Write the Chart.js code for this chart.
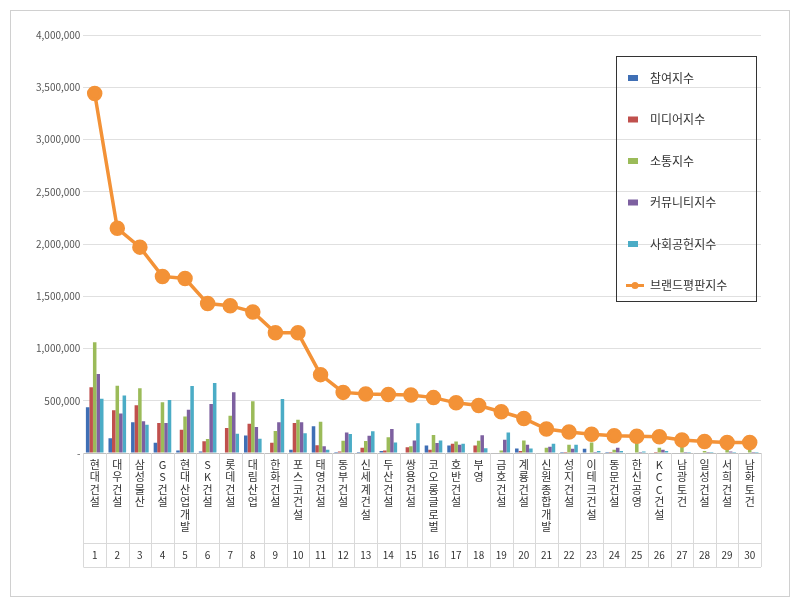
<!DOCTYPE html>
<html><head><meta charset="utf-8">
<script src="https://cdn.jsdelivr.net/npm/chart.js@4"></script>
<style>body{margin:0;background:#fff}#w{position:absolute;left:10px;top:10px;width:778px;height:585px;border:1px solid #d0d0d0}</style>
</head><body><div id="w"><canvas id="c"></canvas></div>
<script>
const categories=['현대건설','대우건설','삼성물산','GS건설','현대산업개발','SK건설','롯데건설','대림산업','한화건설','포스코건설','태영건설','동부건설','신세계건설','두산건설','쌍용건설','코오롱글로벌','호반건설','부영','금호건설','계룡건설','신원종합개발','성지건설','이테크건설','동문건설','한신공영','KCC건설','남광토건','일성건설','서희건설','남화토건'];
const participation=[437000,142000,295000,97000,25000,15000,5000,168000,5000,32000,255000,10000,10000,20000,5000,72000,72000,5000,5000,42000,5000,10000,40000,10000,5000,5000,5000,5000,5000,5000];
const media=[630000,408000,457000,288000,223000,113000,240000,280000,97000,288000,75000,15000,50000,25000,55000,30000,88000,72000,5000,20000,5000,10000,5000,10000,5000,10000,5000,5000,5000,5000];
const communication=[1060000,643000,620000,485000,350000,135000,357000,495000,210000,318000,300000,117000,115000,150000,65000,172000,110000,117000,25000,120000,50000,78000,100000,30000,110000,50000,90000,20000,40000,30000];
const community=[755000,377000,303000,288000,415000,470000,582000,250000,295000,295000,65000,197000,165000,230000,120000,95000,80000,170000,127000,78000,60000,40000,10000,50000,10000,30000,10000,10000,15000,10000];
const social=[520000,550000,270000,507000,640000,670000,185000,136000,517000,190000,32000,182000,207000,100000,285000,120000,88000,45000,195000,42000,88000,80000,20000,20000,15000,20000,10000,10000,10000,10000];
const brand=[3440000,2150000,1970000,1690000,1670000,1430000,1410000,1350000,1150000,1150000,750000,580000,565000,560000,555000,530000,480000,455000,395000,330000,230000,200000,180000,165000,160000,155000,125000,110000,100000,100000];
const names=['참여지수','미디어지수','소통지수','커뮤니티지수','사회공헌지수','브랜드평판지수'];
const colors=['#3F6FB5','#C0504D','#9BBB59','#7D60A0','#4BACC6','#F39237'];
const series=[participation,media,communication,community,social];
const F='"Noto Sans CJK KR","Noto Sans",sans-serif';
const tablePlugin={id:'tbl',afterDraw(ch){
  const ctx=ch.ctx,x=ch.scales.x,a=ch.chartArea;
  const w=x.getPixelForValue(1)-x.getPixelForValue(0);
  const l=x.getPixelForValue(0)-w/2, r=x.getPixelForValue(29)+w/2;
  const b=a.bottom;
  ctx.save();ctx.strokeStyle='#d9d9d9';ctx.lineWidth=1;
  ctx.beginPath();
  for(let i=0;i<=30;i++){const px=Math.round(l+i*w)+0.5;ctx.moveTo(px,b);ctx.lineTo(px,b+114);}
  ctx.moveTo(l,b+90.5);ctx.lineTo(r,b+90.5);ctx.moveTo(l,b+114.5);ctx.lineTo(r,b+114.5);ctx.stroke();
  ctx.fillStyle='#333';ctx.font='11px '+F;ctx.textAlign='center';ctx.textBaseline='top';
  for(let i=0;i<30;i++){const cx=x.getPixelForValue(i);const ch2=Array.from(categories[i]);
    ch2.forEach((c,k)=>ctx.fillText(c,cx,b+6+k*12.5));}
  ctx.font='10px '+F;ctx.textBaseline='middle';
  for(let i=0;i<30;i++)ctx.fillText(String(i+1),x.getPixelForValue(i),b+102);
  const lx=605,ly=45,lw=140,lh=245;
  ctx.strokeStyle='#333';ctx.strokeRect(lx+0.5,ly+0.5,lw,lh);
  ctx.textAlign='left';ctx.font='12px '+F;
  for(let i=0;i<6;i++){const y=ly+22+i*41.5;
    if(i<5){ctx.fillStyle=colors[i];ctx.fillRect(lx+12,y-3,10,6);}
    else{ctx.strokeStyle=colors[5];ctx.lineWidth=3;ctx.beginPath();ctx.moveTo(lx+10,y);ctx.lineTo(lx+28,y);ctx.stroke();ctx.fillStyle=colors[5];ctx.beginPath();ctx.arc(lx+19,y,3.5,0,7);ctx.fill();}
    ctx.fillStyle='#333';ctx.fillText(names[i],lx+34,y);}
  ctx.restore();}};
new Chart(document.getElementById('c'),{type:'bar',
 data:{labels:categories,
  datasets:[{type:'line',label:names[5],data:brand,borderColor:colors[5],backgroundColor:colors[5],borderWidth:3.5,pointRadius:6,pointHoverRadius:6,order:0},
   ...series.map((d,i)=>({label:names[i],data:d,backgroundColor:colors[i],order:1}))]},
 options:{responsive:true,maintainAspectRatio:false,animation:false,
  layout:{padding:{top:24,right:28,left:22,bottom:135}},
  plugins:{legend:{display:false},tooltip:{enabled:false}},
  datasets:{bar:{categoryPercentage:0.78,barPercentage:1}},
  scales:{y:{min:0,max:4000000,ticks:{stepSize:500000,color:'#555',font:{size:10,family:F},callback:v=>v===0?'-':v.toLocaleString('en-US')},grid:{color:'#e0e0e0',drawTicks:false},border:{display:false}},
   x:{grid:{display:false},border:{color:'#bfbfbf'},ticks:{display:false}}}},
 plugins:[tablePlugin]});
</script></body></html>
